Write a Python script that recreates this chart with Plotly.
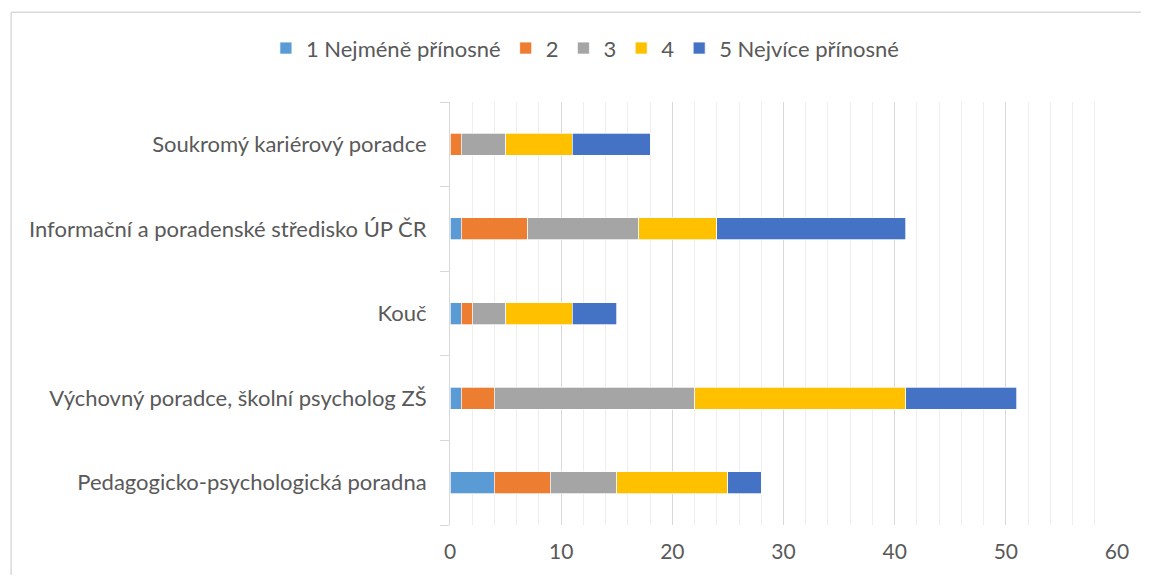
## Kariérové poradenství - stacked bar
import plotly.graph_objects as go

## categories, bottom to top like in Excel
categories = ["Pedagogicko-psychologická poradna",
              "Výchovný poradce, školní psycholog ZŠ",
              "Kouč",
              "Informační a poradenské středisko ÚP ČR",
              "Soukromý kariérový poradce"]
series_names = ["1 Nejméně přínosné", "2", "3", "4", "5 Nejvíce přínosné"]
s1 = [4, 1, 1, 1, 0]
s2 = [5, 3, 1, 6, 1]
s3 = [6, 18, 3, 10, 4]
s4 = [10, 19, 6, 7, 6]
s5 = [3, 10, 4, 17, 7]
colors = ["#5B9BD5", "#ED7D31", "#A5A5A5", "#FFC000", "#4472C4"]

fig = go.Figure()
for name, vals, col in zip(series_names, [s1, s2, s3, s4, s5], colors):
    fig.add_trace(go.Bar(y=categories, x=vals, name=name, orientation="h",
                         marker=dict(color=col, line=dict(color="white", width=0.7))))

## the page body has an 8px margin, figure made smaller so nothing scrolls
fig.update_layout(
    barmode="stack", bargap=0.74,
    width=1133, height=567,
    margin=dict(l=442, r=21, t=94, b=48),
    plot_bgcolor="white", paper_bgcolor="white",
    font=dict(family="Lato, sans-serif", size=22, color="#595959"),
    legend=dict(orientation="h", x=0.203, xanchor="center", y=1.127, yanchor="middle",
                traceorder="normal", font=dict(size=22, color="#595959"),
                itemwidth=30),
    showlegend=True,
)
fig.update_xaxes(range=[0, 60], dtick=10, showgrid=True, gridcolor="#d9d9d9", gridwidth=1,
                 minor=dict(dtick=2, showgrid=True, gridcolor="#eeeeee", gridwidth=1),
                 showline=False, zeroline=False, ticks="", ticklabelstandoff=12,
                 tickfont=dict(size=21))
fig.update_yaxes(showline=True, linecolor="#d9d9d9", linewidth=1, ticks="outside",
                 tickson="boundaries", ticklen=9, tickcolor="#d9d9d9",
                 ticklabelstandoff=18, showgrid=False)

## chart area border, only top and left edges are in the picture
fig.add_shape(type="line", xref="paper", yref="paper", x0=-0.658, x1=1.2, y0=1.212, y1=1.212,
              line=dict(color="#d9d9d9", width=1.5), layer="below")
fig.add_shape(type="line", xref="paper", yref="paper", x0=-0.658, x1=-0.658, y0=-0.3, y1=1.212,
              line=dict(color="#d9d9d9", width=1.5), layer="below")

fig.write_html("out.html")
